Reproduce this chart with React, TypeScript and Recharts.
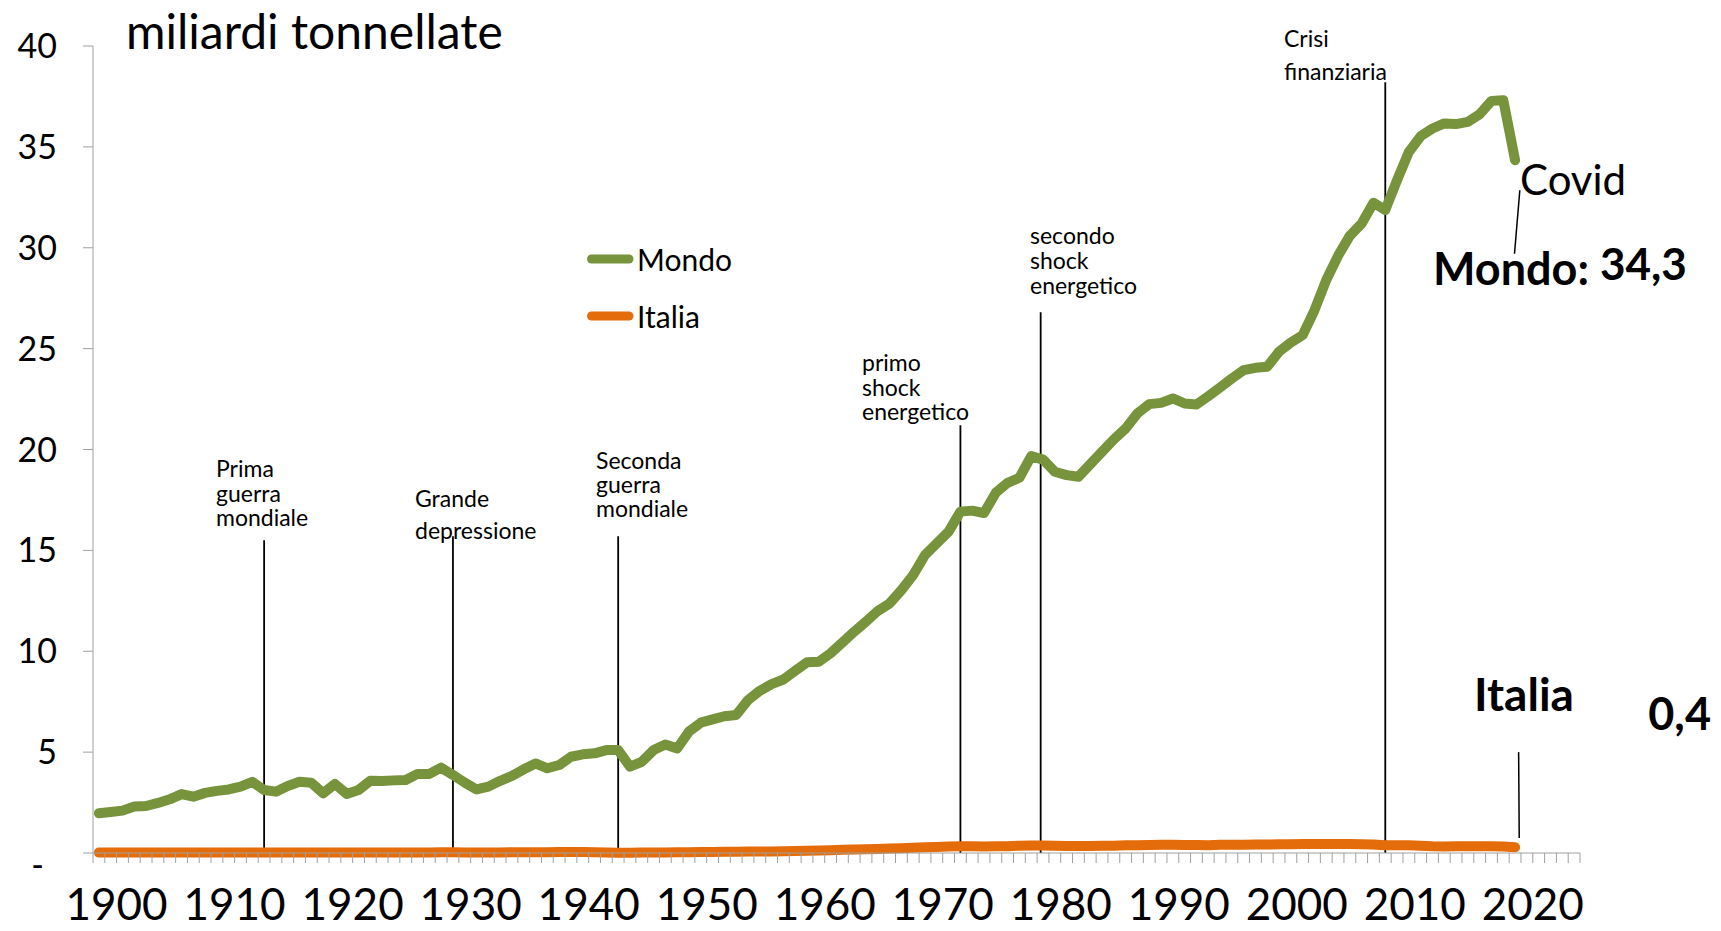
import { LineChart, Line, XAxis, YAxis, ReferenceLine, Legend } from "recharts";

const FONT = "Lato, 'Noto Sans', sans-serif";
const GREEN = "#77933c";
const ORANGE = "#e46c0a";
const AXIS = "#a0a0a0";

// miliardi di tonnellate di CO2, 1900-2020
const startYear = 1900;
const mondo = [
  1.97, 2.03, 2.1, 2.3, 2.33, 2.48, 2.66, 2.92, 2.79, 2.98,
  3.08, 3.15, 3.29, 3.53, 3.12, 3.04, 3.32, 3.53, 3.48, 2.96,
  3.42, 2.93, 3.12, 3.58, 3.57, 3.6, 3.62, 3.92, 3.92, 4.23,
  3.87, 3.49, 3.15, 3.29, 3.58, 3.82, 4.15, 4.44, 4.2, 4.36,
  4.77, 4.89, 4.94, 5.1, 5.1, 4.28, 4.52, 5.1, 5.38, 5.18,
  6.02, 6.46, 6.62, 6.78, 6.84, 7.58, 8.04, 8.37, 8.6, 9.03,
  9.45, 9.48, 9.9, 10.43, 10.97, 11.47, 12.0, 12.37, 13.03, 13.78,
  14.77, 15.35, 15.93, 16.92, 16.97, 16.85, 17.86, 18.35, 18.6, 19.67,
  19.5, 18.9, 18.73, 18.65, 19.27, 19.89, 20.5, 21.04, 21.79, 22.25,
  22.31, 22.53, 22.28, 22.23, 22.64, 23.07, 23.52, 23.93, 24.05, 24.1,
  24.85, 25.3, 25.67, 26.9, 28.4, 29.6, 30.6, 31.2, 32.23, 31.87,
  33.35, 34.75, 35.53, 35.91, 36.16, 36.13, 36.24, 36.62, 37.28, 37.31,
  34.34,
];
const italia = [
  0.02, 0.02, 0.02, 0.02, 0.02, 0.02, 0.02, 0.02, 0.02, 0.03,
  0.03, 0.03, 0.03, 0.03, 0.03, 0.03, 0.03, 0.03, 0.02, 0.02,
  0.02, 0.02, 0.03, 0.03, 0.03, 0.03, 0.03, 0.03, 0.03, 0.04,
  0.04, 0.03, 0.03, 0.03, 0.03, 0.04, 0.04, 0.04, 0.04, 0.05,
  0.05, 0.05, 0.04, 0.03, 0.01, 0.01, 0.02, 0.03, 0.03, 0.04,
  0.04, 0.05, 0.05, 0.06, 0.06, 0.07, 0.08, 0.08, 0.09, 0.1,
  0.11, 0.12, 0.14, 0.16, 0.17, 0.18, 0.2, 0.22, 0.24, 0.26,
  0.29, 0.3, 0.32, 0.34, 0.34, 0.32, 0.34, 0.34, 0.36, 0.37,
  0.37, 0.36, 0.35, 0.35, 0.35, 0.36, 0.36, 0.38, 0.38, 0.4,
  0.41, 0.41, 0.4, 0.4, 0.39, 0.41, 0.41, 0.41, 0.42, 0.42,
  0.43, 0.43, 0.44, 0.45, 0.45, 0.45, 0.44, 0.43, 0.42, 0.38,
  0.39, 0.38, 0.36, 0.33, 0.32, 0.33, 0.33, 0.33, 0.33, 0.32,
  0.28,
];
const seriesOrder = ["Mondo", "Italia"];
const yTicks = [0, 5, 10, 15, 20, 25, 30, 35, 40];
const decadeLabels = [1900, 1910, 1920, 1930, 1940, 1950, 1960, 1970, 1980, 1990, 2000, 2010, 2020];

// eventi: anno della linea verticale e altezza (in miliardi t) dove finisce
const events = [
  { year: 1914, top: 15.5, text: ["Prima", "guerra", "mondiale"] },
  { year: 1930, top: 15.7, text: ["Grande", "depressione"] },
  { year: 1944, top: 15.7, text: ["Seconda", "guerra", "mondiale"] },
  { year: 1973, top: 21.2, text: ["primo", "shock", "energetico"] },
  { year: 1979.8, top: 26.8, text: ["secondo", "shock", "energetico"] },
  { year: 2009, top: 38.2, text: ["Crisi", "finanziaria"] },
];

const data = mondo.map((v, i) => ({ year: startYear + i, Mondo: v, Italia: italia[i] }));
const halfTicks = Array.from({ length: 127 }, (_, i) => 1899.5 + i);

// text placement of the event labels (left x, first baseline, line step)
const eventLabelPos = [
  { x: 216, y: 477, step: 24.5 },
  { x: 415, y: 507, step: 32 },
  { x: 596, y: 469, step: 24 },
  { x: 862, y: 371, step: 24.5 },
  { x: 1030, y: 244, step: 25 },
  { x: 1284, y: 47, step: 33 },
];

const XTick = (props: any) => {
  const { x, y, payload } = props;
  const year = payload.value - 1.5;
  if (!decadeLabels.includes(year)) return null;
  return (
    <text x={x} y={y} dy={57} textAnchor="middle" fontSize={44} fontFamily={FONT} fill="#000">
      {year}
    </text>
  );
};

const YTick = (props: any) => {
  const { x, y, payload } = props;
  if (payload.value === 0) {
    return (
      <text x={x - 13} y={y} dy={24} textAnchor="end" fontSize={34} fontFamily={FONT} fill="#000">
        -
      </text>
    );
  }
  return (
    <text x={x} y={y} dy={12} textAnchor="end" fontSize={34} fontFamily={FONT} fill="#000">
      {payload.value}
    </text>
  );
};

const renderLegend = (props: any) => {
  const items = [...(props.payload || [])].sort(
    (a: any, b: any) => seriesOrder.indexOf(a.value) - seriesOrder.indexOf(b.value)
  );
  return (
    <div style={{ fontFamily: FONT }}>
      {items.map((p: any) => (
        <div key={p.value} style={{ display: "flex", alignItems: "center", height: 57 }}>
          <svg width={54} height={14}>
            <line x1={8.5} y1={7} x2={46} y2={7} stroke={p.color} strokeWidth={9} strokeLinecap="round" />
          </svg>
          <span style={{ fontSize: 30, color: "#000", lineHeight: 1 }}>{p.value}</span>
        </div>
      ))}
    </div>
  );
};

export default function App() {
  return (
    <div style={{ position: "absolute", left: 0, top: 0, width: 1721, height: 931, background: "#fff" }}>
      <LineChart
        width={1721}
        height={931}
        data={data}
        margin={{ top: 46, right: 141, bottom: 0, left: 0 }}
      >
        <XAxis
          dataKey="year"
          type="number"
          domain={[1899.5, 2025.5]}
          ticks={halfTicks}
          interval={0}
          tick={<XTick />}
          tickSize={10}
          tickMargin={0}
          height={78}
          stroke={AXIS}
          tickLine={{ stroke: AXIS }}
          axisLine={{ stroke: AXIS }}
        />
        <YAxis
          type="number"
          domain={[0, 40]}
          ticks={yTicks}
          interval={0}
          width={93}
          tickSize={10}
          tickMargin={26}
          tick={<YTick />}
          stroke={AXIS}
          tickLine={{ stroke: AXIS }}
          axisLine={{ stroke: AXIS }}
        />
        <Legend
          layout="vertical"
          align="center"
          verticalAlign="middle"
          content={renderLegend}
          wrapperStyle={{ left: 583, top: 230, width: 200, bottom: "auto" }}
        />
        {events.map((e) => (
          <ReferenceLine
            key={e.year}
            segment={[{ x: e.year, y: e.top }, { x: e.year, y: 0 }]}
            stroke="#000"
            strokeWidth={1.8}
            ifOverflow="visible"
          />
        ))}
        <ReferenceLine
          segment={[{ x: 2020.4, y: 32.85 }, { x: 2019.95, y: 29.7 }]}
          stroke="#000"
          strokeWidth={1.5}
          ifOverflow="visible"
        />
        <ReferenceLine
          segment={[{ x: 2020.3, y: 5.0 }, { x: 2020.35, y: 0.74 }]}
          stroke="#000"
          strokeWidth={1.5}
          ifOverflow="visible"
        />
        <Line
          type="linear"
          dataKey="Mondo"
          stroke={GREEN}
          strokeWidth={10}
          strokeLinecap="round"
          strokeLinejoin="round"
          dot={false}
          activeDot={false}
          isAnimationActive={false}
        />
        <Line
          type="linear"
          dataKey="Italia"
          stroke={ORANGE}
          strokeWidth={10}
          strokeLinecap="round"
          strokeLinejoin="round"
          dot={false}
          activeDot={false}
          isAnimationActive={false}
        />
      </LineChart>
      <svg
        width={1721}
        height={931}
        style={{ position: "absolute", left: 0, top: 0, pointerEvents: "none" }}
        fontFamily={FONT}
      >
        <text x={126} y={49} fontSize={48} fill="#000">
          miliardi tonnellate
        </text>
        {events.map((e, i) => (
          <text key={e.year} x={eventLabelPos[i].x} y={eventLabelPos[i].y} fontSize={23} fill="#000">
            {e.text.map((t, j) => (
              <tspan key={t} x={eventLabelPos[i].x} dy={j === 0 ? 0 : eventLabelPos[i].step}>
                {t}
              </tspan>
            ))}
          </text>
        ))}
        <text x={1520} y={195} fontSize={42} fill="#000">
          Covid
        </text>
        <text x={1433} y={285} fontSize={45} fontWeight="bold" fill="#000">
          Mondo:
        </text>
        <text x={1600} y={280} fontSize={44} fontWeight="bold" fill="#000">
          34,3
        </text>
        <text x={1474} y={711} fontSize={46} fontWeight="bold" fill="#000">
          Italia
        </text>
        <text x={1711} y={730} fontSize={45} fontWeight="bold" fill="#000" textAnchor="end">
          0,4
        </text>
      </svg>
    </div>
  );
}
